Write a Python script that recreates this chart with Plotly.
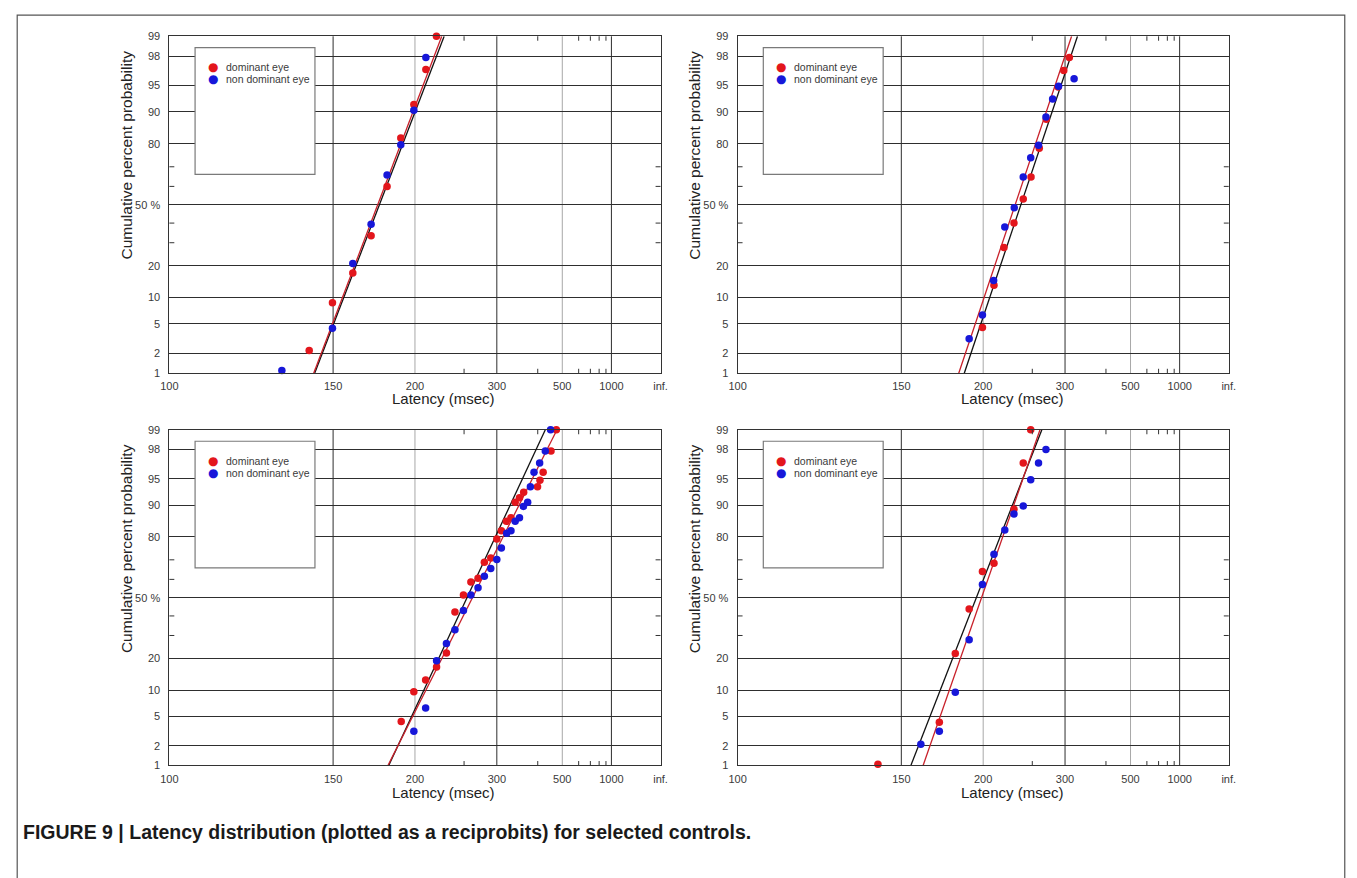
import plotly.graph_objects as go
from statistics import NormalDist

# ---------------- data ----------------
x_tick_ms = [100, 150, 200, 300, 500, 1000, float("inf")]
x_tick_labels = ["100", "150", "200", "300", "500", "1000", "inf."]
y_tick_pct = [1, 2, 5, 10, 20, 50, 80, 90, 95, 98, 99]
y_tick_labels = ["1", "2", "5", "10", "20", "50 %", "80", "90", "95", "98", "99"]
x_minor_ms = [250, 400, 600, 700, 800, 900]
y_minor_pct = [30, 40, 60, 70]
grid_dark_ms = [150, 300, 1000]
grid_light_ms = [200, 500]
fit_pct = [1, 99]

# Panel A (top left)
dom_lat_A = [139.8, 149.7, 159.6, 169.7, 179.6, 189.1, 199.1, 209.3, 219.2]
dom_pct_A = [2.2, 8.8, 17.3, 33.4, 59.9, 82.2, 91.7, 96.9, 99.0]
non_lat_A = [129.7, 149.7, 159.6, 169.7, 179.6, 189.1, 199.1, 209.3]
non_pct_A = [1.1, 4.4, 20.9, 39.4, 66.0, 79.6, 90.4, 97.9]
fit_black_A = [142.0, 227.0]
fit_red_A = [141.6, 224.5]

# Panel B (top right)
dom_lat_B = [199.4, 209.2, 218.5, 228.7, 239.0, 248.4, 259.2, 269.2, 288.0, 297.7, 308.1]
dom_pct_B = [4.5, 13.3, 27.7, 40.0, 53.1, 64.9, 78.2, 88.1, 94.8, 96.8, 97.9]
non_lat_B = [189.2, 199.4, 208.9, 219.3, 229.0, 239.0, 248.0, 258.2, 268.7, 278.9, 288.6, 317.6]
non_pct_B = [3.2, 6.4, 14.8, 37.9, 48.4, 64.9, 74.2, 79.4, 88.7, 92.8, 94.9, 95.9]
fit_black_B = [185.7, 324.7]
fit_red_B = [181.9, 312.5]

# Panel C (bottom left)
dom_lat_C = [189.4, 199.1, 209.1, 219.3, 229.4, 238.9, 249.2, 259.0, 269.1, 278.8, 289.3, 300.0,
             308.6, 318.6, 328.4, 337.9, 348.2, 358.9, 399.3, 407.3, 418.4, 448.5, 471.4]
dom_pct_C = [4.3, 9.6, 12.7, 16.8, 22.1, 42.1, 51.4, 58.6, 60.6, 68.8, 70.9, 79.2,
             82.3, 85.5, 86.6, 90.7, 91.7, 92.8, 93.8, 94.8, 95.9, 97.9, 99.0]
non_lat_C = [199.1, 209.1, 219.3, 229.4, 238.9, 249.2, 259.0, 269.1, 278.8, 289.3, 300.0, 308.6,
             319.3, 328.4, 337.9, 348.2, 358.2, 369.6, 377.4, 388.2, 406.3, 426.2, 446.8]
non_pct_C = [3.2, 6.3, 19.1, 26.2, 32.8, 43.0, 51.4, 55.4, 61.6, 65.7, 70.1, 75.4,
             81.4, 82.3, 85.5, 86.6, 89.7, 90.7, 93.8, 95.9, 96.9, 97.9, 99.0]
fit_black_C = [180.7, 426.3]
fit_red_C = [180.2, 474.3]

# Panel D (bottom right)
dom_lat_D = [140.0, 169.7, 179.6, 189.2, 199.4, 209.2, 228.7, 239.0, 248.0]
dom_pct_D = [1.05, 4.2, 21.9, 43.7, 64.2, 68.3, 89.0, 96.9, 99.0]
non_lat_D = [159.5, 169.7, 179.6, 189.2, 199.4, 209.2, 219.3, 228.7, 239.0, 248.0, 258.2, 268.7]
non_pct_D = [2.1, 3.2, 9.5, 28.0, 57.2, 72.6, 82.6, 87.7, 89.8, 94.9, 96.9, 98.0]
fit_black_D = [154.5, 262.8]
fit_red_D = [160.7, 260.2]

series_names = ["dominant eye", "non dominant eye"]
caption = "FIGURE 9 | Latency distribution (plotted as a reciprobits) for selected controls."
x_title = "Latency (msec)"
y_title = "Cumulative percent probability"

# ---------------- styling / layout ----------------
FW, FH = 1357, 878
RED = "#e3161c"
BLUE = "#1717d9"
LINE_RED = "#c8202a"
GRID = "#2e2e2e"
GRID_LIGHT = "#a8a8a8"
TXT = "#3a3a3a"
SANS = "Liberation Sans, Arial, sans-serif"

nd = NormalDist()


def probit(pct):
    return nd.inv_cdf(pct / 100.0)


def recip(ms):
    return 0.0 if ms == float("inf") else -1000.0 / ms


def px(x):
    return x / FW


def py(y):
    return 1 - y / FH


# panel pixel boxes: (left, right, top, bottom)
panels = [
    (162.3, 659.3, 30.7, 372.3),
    (737.3, 1234.3, 30.7, 372.3),
    (162.3, 659.3, 429.7, 770.0),
    (737.3, 1234.3, 429.7, 770.0),
]
data = [
    (dom_lat_A, dom_pct_A, non_lat_A, non_pct_A, fit_black_A, fit_red_A),
    (dom_lat_B, dom_pct_B, non_lat_B, non_pct_B, fit_black_B, fit_red_B),
    (dom_lat_C, dom_pct_C, non_lat_C, non_pct_C, fit_black_C, fit_red_C),
    (dom_lat_D, dom_pct_D, non_lat_D, non_pct_D, fit_black_D, fit_red_D),
]

fig = go.Figure()
shapes = []
annotations = []

for k, ((L, R, T, B), (dl, dp, nl, npct, fb, fr)) in enumerate(zip(panels, data), start=1):
    xa = "x" if k == 1 else f"x{k}"
    ya = "y" if k == 1 else f"y{k}"
    # fitted lines
    fig.add_trace(go.Scatter(x=[recip(v) for v in fb], y=[probit(p) for p in fit_pct],
                             mode="lines", line=dict(color="#111111", width=1.3),
                             xaxis=xa, yaxis=ya, showlegend=False, hoverinfo="skip"))
    fig.add_trace(go.Scatter(x=[recip(v) for v in fr], y=[probit(p) for p in fit_pct],
                             mode="lines", line=dict(color=LINE_RED, width=1.3),
                             xaxis=xa, yaxis=ya, showlegend=False, hoverinfo="skip"))
    # points
    fig.add_trace(go.Scatter(x=[recip(v) for v in dl], y=[probit(p) for p in dp],
                             mode="markers", name=series_names[0],
                             marker=dict(color=RED, size=7.5), cliponaxis=False,
                             xaxis=xa, yaxis=ya, showlegend=False))
    fig.add_trace(go.Scatter(x=[recip(v) for v in nl], y=[probit(p) for p in npct],
                             mode="markers", name=series_names[1],
                             marker=dict(color=BLUE, size=7.5), cliponaxis=False,
                             xaxis=xa, yaxis=ya, showlegend=False))

    axx = dict(domain=[px(L), px(R)], anchor=ya,
               range=[recip(100), recip(float("inf"))],
               tickmode="array", tickvals=[recip(v) for v in x_tick_ms], ticktext=x_tick_labels,
               ticks="outside", ticklen=3, tickcolor="rgba(0,0,0,0)",
               showgrid=False, zeroline=False, showline=True, mirror=True,
               linecolor="#333333", linewidth=1,
               tickfont=dict(family=SANS, size=11, color=TXT))
    axy = dict(domain=[py(B), py(T)], anchor=xa,
               range=[probit(1), probit(99)],
               tickmode="array", tickvals=[probit(p) for p in y_tick_pct], ticktext=y_tick_labels,
               ticks="outside", ticklen=6, tickcolor="rgba(0,0,0,0)",
               showgrid=True, gridcolor=GRID, gridwidth=1, zeroline=False,
               showline=True, mirror=True, linecolor="#333333", linewidth=1,
               tickfont=dict(family=SANS, size=11, color=TXT))
    axname_x = "xaxis" if k == 1 else f"xaxis{k}"
    axname_y = "yaxis" if k == 1 else f"yaxis{k}"
    fig.update_layout(**{axname_x: axx, axname_y: axy})

    # vertical gridlines
    for ms in grid_dark_ms + grid_light_ms:
        col = GRID if ms in grid_dark_ms else GRID_LIGHT
        shapes.append(dict(type="line", xref=xa, yref=f"{ya} domain",
                           x0=recip(ms), x1=recip(ms), y0=0, y1=1,
                           line=dict(color=col, width=1), layer="below"))
    # minor ticks on x (top and bottom, inside)
    tl_y = 4.5 / (B - T)
    for ms in x_minor_ms:
        shapes.append(dict(type="line", xref=xa, yref=f"{ya} domain", x0=recip(ms), x1=recip(ms),
                           y0=1, y1=1 - tl_y, line=dict(color="#333333", width=1)))
        shapes.append(dict(type="line", xref=xa, yref=f"{ya} domain", x0=recip(ms), x1=recip(ms),
                           y0=0, y1=tl_y, line=dict(color="#333333", width=1)))
    # minor ticks on y (left and right, inside)
    tl_x = 5 / (R - L)
    for p in y_minor_pct:
        shapes.append(dict(type="line", xref=f"{xa} domain", yref=ya, x0=0, x1=tl_x,
                           y0=probit(p), y1=probit(p), line=dict(color="#333333", width=1)))
        shapes.append(dict(type="line", xref=f"{xa} domain", yref=ya, x0=1, x1=1 - tl_x,
                           y0=probit(p), y1=probit(p), line=dict(color="#333333", width=1)))

    dx = L - 162.3
    dy = T - 30.7
    # legend box
    shapes.append(dict(type="rect", xref="paper", yref="paper",
                       x0=px(188.3 + dx), x1=px(309.6 + dx), y0=py(170.7 + dy), y1=py(42.3 + dy),
                       fillcolor="white", line=dict(color="#7a7a7a", width=1.2), layer="above"))
    for i, (nm, col) in enumerate(zip(series_names, [RED, BLUE])):
        yy = 62.3 + dy + i * 11.7
        annotations.append(dict(xref="paper", yref="paper", x=px(206.7 + dx), y=py(yy),
                                text="●", showarrow=False, xanchor="center", yanchor="middle",
                                font=dict(family="DejaVu Sans", size=12, color=col)))
        annotations.append(dict(xref="paper", yref="paper", x=px(217.5 + dx), y=py(yy),
                                text=nm, showarrow=False, xanchor="left", yanchor="middle",
                                font=dict(family=SANS, size=10.5, color=TXT)))
    # axis titles
    annotations.append(dict(xref="paper", yref="paper", x=px(440 + dx), y=py(398 + dy),
                            text=x_title, showarrow=False, xanchor="center", yanchor="middle",
                            font=dict(family=SANS, size=15, color="#222222")))
    annotations.append(dict(xref="paper", yref="paper", x=px(119 + dx), y=py(151 + dy),
                            text=y_title, showarrow=False, textangle=-90,
                            xanchor="center", yanchor="middle",
                            font=dict(family=SANS, size=15.5, color="#222222")))

# outer border
shapes.append(dict(type="rect", xref="paper", yref="paper", x0=px(8.3), x1=px(1351.7),
                   y0=-0.1, y1=py(9.3), line=dict(color="#555555", width=1.2),
                   fillcolor="rgba(0,0,0,0)", layer="above"))
annotations.append(dict(xref="paper", yref="paper", x=px(12), y=py(837), text="<b>" + caption + "</b>",
                        showarrow=False, xanchor="left", yanchor="middle",
                        font=dict(family=SANS, size=19.5, color="#1a1a1a")))

fig.update_layout(width=FW, height=FH, margin=dict(l=0, r=0, t=0, b=0),
                  paper_bgcolor="white", plot_bgcolor="white",
                  shapes=shapes, annotations=annotations, showlegend=False)

fig.write_html("out.html", config={"displayModeBar": False},
               post_script="document.body.style.margin='0';document.body.style.overflow='hidden';")
